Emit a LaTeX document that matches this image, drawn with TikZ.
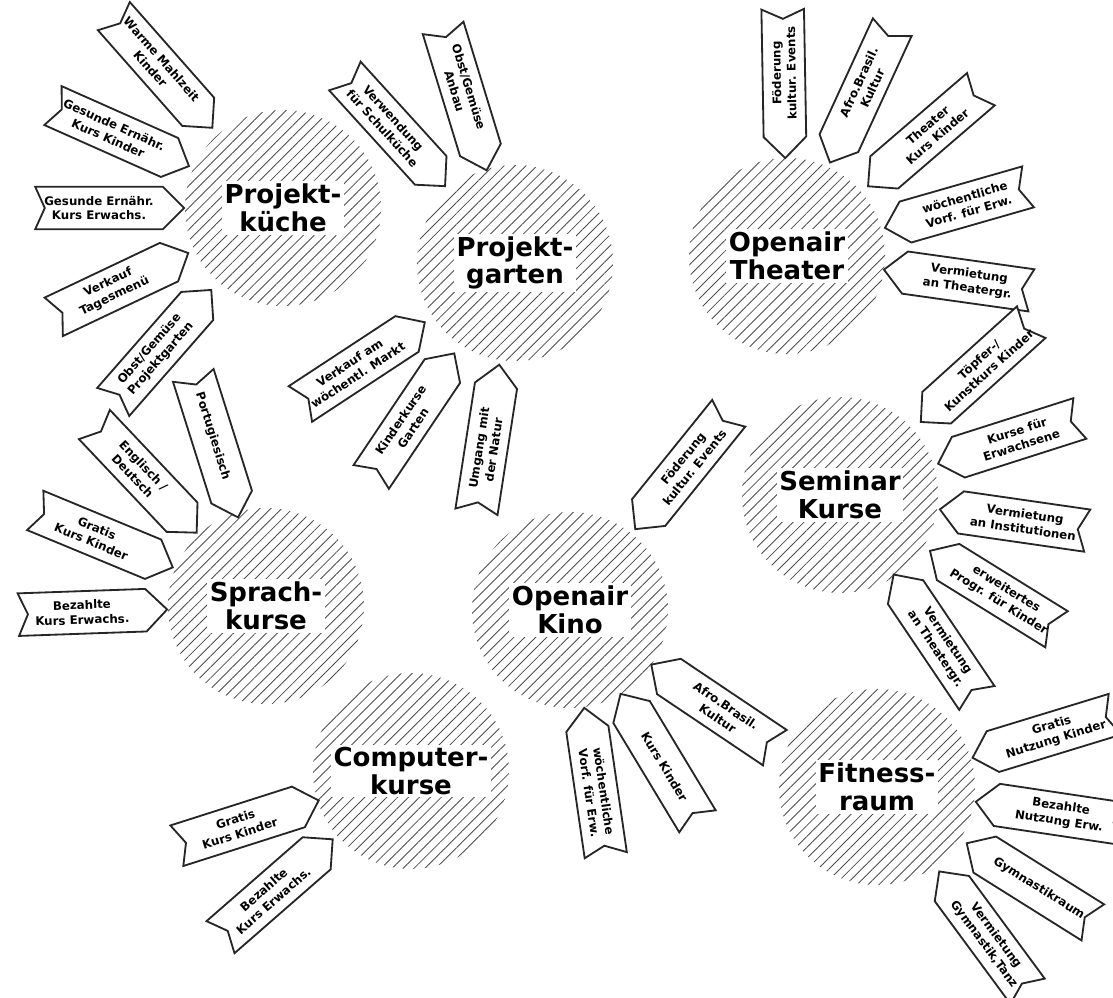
\documentclass[tikz,border=0pt]{standalone}
\usepackage{fontspec}
\setmainfont{DejaVu Sans}
\usetikzlibrary{calc,patterns.meta}
\pgfdeclarelayer{back}
\pgfdeclarelayer{mid}
\pgfsetlayers{back,mid,main}
\tikzset{
  hub/.style={fill=white,inner sep=2pt,align=center,font=\fontsize{18.5}{19.5}\selectfont\bfseries},
  hatch/.style={pattern={Lines[angle=45,distance=5.5pt,line width=0.6pt]},pattern color=black!70},
  sig/.style={minimum width=3.175cm,minimum height=1.05cm,inner sep=1pt,align=center,font=\fontsize{8.4}{10.6}\selectfont\bfseries},
  sigline/.style={draw=black!85,line width=1.3pt,fill=white},
}
% hatched area with its title
\newcommand{\area}[4]{
  \node[hub] (#1) at (#2,#3) {#4};
  \begin{pgfonlayer}{back}\fill[hatch] (#1) circle[radius=2.45cm];\end{pgfonlayer}}
% signal pointing at its area (text reads towards it)
\newcommand{\sigin}[5]{
  \node[sig,rotate=#3+180] (#1) at ($(#2)+(#3:#4)$) {#5};
  \begin{pgfonlayer}{mid}
  \draw[sigline] (#1.north west) -- (#1.north east) -- ($(#1.east)!1!-90:(#1.north east)$)
    -- (#1.south east) -- (#1.south west) -- ($(#1.west)!.45!-90:(#1.north west)$) -- cycle;
  \end{pgfonlayer}}
% signal pointing at its area (text reads away from it)
\newcommand{\sigout}[5]{
  \node[sig,rotate=#3] (#1) at ($(#2)+(#3:#4)$) {#5};
  \begin{pgfonlayer}{mid}
  \draw[sigline] (#1.north west) -- (#1.north east) -- ($(#1.east)!.45!90:(#1.north east)$)
    -- (#1.south east) -- (#1.south west) -- ($(#1.west)!1!90:(#1.north west)$) -- cycle;
  \end{pgfonlayer}}

\begin{document}
\begin{tikzpicture}[x=0.025cm,y=0.025cm]
\useasboundingbox (0,-998) rectangle (1113,0);
% Projektkueche
\area{PK}{283}{-208}{Projekt-\\küche}
\sigin{PK1}{PK}{131.4}{192}{Warme Mahlzeit\\Kinder}
\sigin{PK2}{PK}{156}{188}{Gesunde Ernähr.\\Kurs Kinder}
\sigin{PK3}{PK}{180}{184}{Gesunde Ernähr.\\Kurs Erwachs.}
\sigin{PK4}{PK}{205.4}{190}{Verkauf\\Tagesmenü}
\sigin{PK5}{PK}{228.8}{194}{Obst/Gemüse\\Projektgarten}
% Projektgarten
\area{PG}{515}{-263}{Projekt-\\garten}
\sigin{PG1}{PG}{132.3}{189}{Verwendung\\für Schulküche}
\sigin{PG2}{PG}{107}{182}{Obst/Gemüse\\Anbau}
\sigin{PG3}{PG}{213.3}{193}{Verkauf am\\wöchentl. Markt}
\sigin{PG4}{PG}{236.1}{194}{Kinderkurse\\Garten}
\sigin{PG5}{PG}{261.2}{188}{Umgang mit\\der Natur}
% Openair Theater
\area{OT}{787}{-256}{Openair\\Theater}
\sigout{OT1}{OT}{91}{183}{Föderung\\kultur. Events}
\sigout{OT2}{OT}{65.3}{188}{Afro.Brasil.\\Kultur}
\sigout{OT3}{OT}{40.7}{192}{Theater\\Kurs Kinder}
\sigout{OT4}{OT}{16}{187}{wöchentliche\\Vorf. für Erw.}
\sigout{OT5}{OT}{-8}{183}{Vermietung\\an Theatergr.}
% Seminar Kurse
\area{SK}{840}{-495}{Seminar\\Kurse}
\sigout{SK1}{SK}{42.1}{194}{Töpfer-/\\Kunstkurs Kinder}
\sigout{SK2}{SK}{17.7}{188}{Kurse für\\Erwachsene}
\sigout{SK3}{SK}{-8.2}{186}{Vermietung\\an Institutionen}
\sigout{SK4}{SK}{-31.8}{191}{erweitertes\\Progr. für Kinder}
\sigout{SK5}{SK}{-56}{181}{Vermietung\\an Theatergr.}
% Sprachkurse
\area{SP}{266}{-606}{Sprach-\\kurse}
\sigin{SP1}{SP}{107.5}{178}{Portugiesisch}
\sigin{SP2}{SP}{133.4}{186}{Englisch /\\Deutsch}
\sigin{SP3}{SP}{157.5}{186}{Gratis\\Kurs Kinder}
\sigin{SP4}{SP}{182}{184}{Bezahlte\\Kurs Erwachs.}
% Openair Kino
\area{OK}{570}{-610}{Openair\\Kino}
\sigout{OK1}{OK}{51.1}{189}{Föderung\\kultur. Events}
\sigout{OK2}{OK}{-33.9}{183}{Afro.Brasil.\\Kultur}
\sigout{OK3}{OK}{-58.9}{183}{Kurs Kinder}
\sigout{OK4}{OK}{-81.7}{184}{wöchentliche\\Vorf. für Erw.}
% Computerkurse
\area{CK}{411}{-771}{Computer-\\kurse}
\sigin{CK1}{CK}{197.7}{182}{Gratis\\Kurs Kinder}
\sigin{CK2}{CK}{221.1}{189}{Bezahlte\\Kurs Erwachs.}
% Fitnessraum
\area{FR}{877}{-787}{Fitness-\\raum}
\sigout{FR1}{FR}{17}{185}{Gratis\\Nutzung Kinder}
\sigout{FR2}{FR}{-8.5}{185}{Bezahlte\\Nutzung Erw.}
\sigout{FR3}{FR}{-32.1}{191}{Gymnastikraum}
\sigout{FR4}{FR}{-53.6}{190}{Vermietung\\Gymnastik,Tanz}
\end{tikzpicture}
\end{document}
